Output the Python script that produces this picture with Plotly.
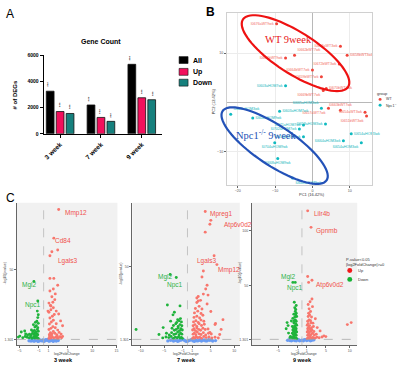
import numpy as np
import plotly.graph_objects as go

W, H = 400, 367
FONT = "Liberation Sans, Arial, sans-serif"

# ---------------- Panel A data ----------------
weeks = ["3 week", "7 week", "9 week"]
all_degs = [3250, 2200, 5300]
up_degs = [1700, 1250, 2750]
down_degs = [1550, 950, 2600]
a_ticks = [0, 2000, 4000, 6000]

# ---------------- Panel B data (PCA) ----------------
wt_pc1 = [-9.6, -4.8, -7.2, 7.5, 9.3, 7.2, 0.0, 2.4, 3.7, 2.9, 7.5, 4.3, 14.1, 14.5]
wt_pc2 = [16.0, 9.6, 9.0, 11.4, 9.6, 7.8, 6.6, 5.2, 2.8, 2.4, -1.6, -1.2, -2.0, -2.8]
wt_names = ["I0676aWT9wk", "I0662bWT7wk", "I0664bWT9wk", "I0663aWT3wk", "I0658bWT3wk",
            "I0672bWT3wk", "I0664bWT7wk", "I0659bWT7wk", "I0670bWT3wk", "I0669bWT7wk",
            "I0663bWT7wk", "I0657aWT7wk", "I0654aWT3wk", "I0651bWT3wk"]
wt_pos = ["middle left", "top right", "middle left", "middle left", "middle right",
          "middle left", "middle left", "middle left", "middle right", "bottom left",
          "top center", "bottom left", "middle left", "bottom left"]
hom_pc1 = [-7.2, -21.9, -16.0, -8.8, -2.4, -3.5, 2.4, 3.5, -2.4, -10.1, -9.3, -5.3, 8.3, 10.4, 13.1]
hom_pc2 = [3.4, -2.4, -3.2, -1.8, -4.6, -5.4, -1.2, -4.4, -7.0, -8.2, -11.4, -15.4, -7.8, -6.4, -8.2]
hom_names = ["I0603aHOM7wk", "I0604aHOM3wk", "I0602aHOM9wk", "I0603aHOM7wk", "I0671aHOM7wk",
             "I0702aHOM7wk", "I0665aHOM3wk", "I0658aHOM3wk", "I0653aHOM7wk", "I0704aHOM9wk",
             "I0668aHOM9wk", "I0668aHOM9wk", "I0664aHOM3wk", "I0654aHOM3wk", "I0654aHOM3wk"]
hom_pos = ["middle left", "top right", "middle right", "middle right", "middle left",
           "middle left", "top left", "middle left", "middle left", "bottom center",
           "bottom center", "bottom right", "middle left", "middle right", "bottom left"]

# ---------------- Panel C data (volcano) ----------------
# 3 week
up1_x = [1.1, 1.3, 1.5, 1.8, 2.1, 2.5, 2.9, 3.4, 3.7, 3.3, 3.0, 3.9, 1.2, 1.4, 1.7, 2.0, 2.3, 2.7, 3.2, 3.6,
         1.1, 1.5, 1.9, 2.4, 2.9, 3.9, 1.2, 1.6, 2.0, 2.6, 1.3, 1.8, 2.2, 1.1, 1.5, 2.0, 2.6, 1.4, 1.9, 2.3,
         1.7, 2.4, 1.3, 2.0, 3.1, 3.5, 1.2, 1.6, 2.8, 1.3, 2.1, 2.9, 1.3, 1.7, 2.9, 2.1, 3.1, 1.1, 1.5, 0.9]
up1_y = [2.0, 2.6, 2.2, 3.0, 2.4, 2.8, 2.1, 3.2, 2.5, 2.9, 2.3, 10.8, 4.8, 6.0, 5.2, 6.8, 5.6, 4.6, 6.2, 5.0,
         8.2, 9.0, 10.2, 9.4, 7.8, 3.4, 12.0, 13.4, 14.6, 12.2, 16.2, 17.4, 18.6, 20.2, 22.0, 23.4, 21.0, 25.0, 27.2, 29.0,
         31.0, 33.0, 35.0, 36.4, 19.0, 14.2, 3.6, 4.2, 3.8, 43.8, 43.8, 39.0, 59.5, 62.3, 63.6, 71.8, 91.7, 26.6, 24.6, 21.0]
down1_x = [-1.1, -1.3, -1.5, -1.7, -1.9, -2.1, -2.4, -2.7, -3.0, -3.4, -3.8, -4.3, -4.9, -5.2, -1.2, -1.4, -1.6, -1.8,
           -2.0, -2.3, -2.6, -2.9, -3.3, -3.7, -1.1, -1.3, -1.6, -1.9, -2.2, -2.5, -1.2, -1.5, -1.8, -2.1, -1.1, -1.4,
           -1.7, -1.2, -1.3, -1.1, -2.0, -1.2, -4.6, -3.9]
down1_y = [2.0, 2.5, 3.0, 2.2, 3.4, 2.6, 2.1, 3.0, 2.4, 2.8, 3.3, 2.5, 3.6, 2.9, 4.5, 5.2, 4.0, 5.8,
           4.8, 5.5, 4.2, 4.9, 4.4, 5.1, 7.0, 8.2, 6.5, 7.6, 6.8, 7.9, 9.5, 10.8, 9.9, 11.6, 12.5, 14.0,
           13.2, 16.5, 21.0, 18.5, 41.7, 28.0, 6.5, 7.2]
ns1_x = [-3.0, -2.6, -2.2, -1.8, -1.4, -1.0, -0.6, -0.2, 0.2, 0.6, 1.0, 1.4, 1.8, 2.2, 2.6, 3.0,
         -2.4, -1.6, -0.8, 0.0, 0.8, 1.6, 2.4, -2.0, -1.2, -0.4, 0.4, 1.2, 2.0, 2.8]
ns1_y = [0.4, 0.2, 0.6, 0.3, 0.8, 0.1, 0.5, 0.9, 0.2, 0.7, 0.4, 1.0, 0.3, 0.6, 0.2, 0.5,
         1.1, 1.2, 1.0, 0.0, 1.2, 0.9, 0.8, 0.1, 0.0, 0.3, 1.1, 0.1, 0.0, 0.9]
genes1 = ["Mmp12", "Cd84", "Lgals3", "Mgl2", "Npc1"]
genes1_x = [3.9, 1.9, 2.5, -4.9, -4.3]
genes1_y = [89.0, 70.5, 56.1, 39.0, 25.3]
genes1_up = [True, True, True, False, False]

# 7 week
up2_x = [1.1, 1.3, 1.6, 1.9, 2.2, 2.6, 3.0, 3.5, 4.0, 4.6, 5.2, 5.9, 6.6, 1.2, 1.5, 1.8, 2.1, 2.5, 2.9, 3.4,
         3.9, 4.5, 5.1, 1.1, 1.4, 1.7, 2.0, 2.4, 2.8, 3.3, 3.8, 4.4, 1.2, 1.6, 2.0, 2.5, 3.0, 3.6, 1.3, 1.8,
         2.3, 2.9, 3.5, 1.4, 2.0, 2.6, 3.3, 1.5, 2.2, 2.9, 1.7, 2.5, 3.1, 2.0, 2.8, 2.3, 3.4, 4.2, 5.0, 6.0,
         7.2, 4.8, 3.9, 3.1, 3.4, 6.3, 5.7, 3.8, 4.8, 5.0, 3.8, 2.0, 4.4, 2.3, 7.6, 5.9, 6.9, 4.2]
up2_y = [2.0, 2.6, 2.2, 3.0, 2.4, 2.8, 2.1, 3.2, 2.5, 2.9, 2.3, 2.7, 2.2, 4.8, 5.6, 4.4, 6.2, 5.0, 4.6, 5.8,
         4.2, 5.4, 4.9, 7.6, 8.4, 7.2, 9.0, 8.0, 7.4, 8.8, 7.9, 8.3, 10.4, 11.2, 10.0, 11.8, 10.6, 11.4, 13.0, 13.8,
         12.6, 14.2, 13.4, 16.0, 16.8, 15.6, 17.4, 19.0, 20.2, 18.6, 22.0, 23.4, 21.6, 26.0, 27.4, 30.0, 31.6, 25.0, 20.0, 12.0,
         8.0, 6.0, 35.0, 43.0, 47.0, 51.3, 57.2, 73.0, 78.3, 80.9, 86.8, 29.0, 30.9, 27.0, 14.5, 11.2, 4.6, 37.5]
down2_x = [-1.1, -1.3, -1.6, -1.9, -2.2, -2.6, -3.0, -3.5, -4.0, -4.6, -5.3, -1.2, -1.5, -1.8, -2.1, -2.5, -2.9, -3.4,
           -3.9, -4.5, -1.1, -1.4, -1.7, -2.0, -2.4, -2.8, -3.3, -1.2, -1.6, -2.0, -2.5, -3.0, -1.3, -1.8, -2.3, -1.5,
           -2.1, -3.1, -1.6, -4.3, -3.7, -2.4, -11.0, -6.1, -5.2, -2.8, -3.6]
down2_y = [2.0, 2.6, 2.2, 3.0, 2.4, 2.8, 2.1, 3.2, 2.5, 2.9, 2.3, 4.8, 5.6, 4.4, 6.2, 5.0, 4.6, 5.8,
           4.2, 5.4, 7.6, 8.4, 7.2, 9.0, 8.0, 7.4, 8.8, 10.4, 11.2, 10.0, 11.8, 10.6, 13.0, 13.8, 12.6, 15.2,
           14.4, 17.7, 23.7, 24.3, 44.7, 42.7, 7.9, 4.6, 9.2, 19.5, 13.5]
ns2_x = [-4.2, -3.6, -3.0, -2.4, -1.8, -1.2, -0.6, 0.0, 0.6, 1.2, 1.8, 2.4, 3.0, 3.6, 4.2, 4.8, 5.4, 6.0,
         -3.3, -2.1, -0.9, 0.3, 1.5, 2.7, 3.9, 5.1, -2.7, -1.5, -0.3, 0.9, 2.1, 3.3, 4.5]
ns2_y = [0.3, 0.7, 0.2, 0.9, 0.4, 1.1, 0.6, 0.1, 0.8, 0.3, 1.0, 0.5, 0.2, 0.9, 0.4, 0.7, 0.2, 0.5,
         1.2, 0.1, 1.2, 0.6, 0.0, 1.1, 0.3, 1.0, 0.5, 0.8, 0.0, 1.2, 0.3, 0.7, 1.1]
genes2 = ["Mpreg1", "Atp6v0d2", "Lgals3", "Mmp12", "Mgl2", "Npc1"]
genes2_x = [4.4, 7.4, 1.6, 6.1, -6.7, -4.8]
genes2_y = [84.9, 77.6, 54.0, 47.4, 42.7, 37.5]
genes2_up = [True, True, True, True, False, False]

# 9 week
up3_x = [1.1, 1.3, 1.5, 1.7, 2.0, 2.3, 2.7, 3.1, 3.6, 4.2, 1.2, 1.4, 1.6, 1.9, 2.2, 2.6, 3.0, 1.1, 1.3, 1.5,
         1.8, 2.1, 2.5, 1.2, 1.4, 1.7, 2.0, 2.4, 1.1, 1.3, 1.6, 1.9, 1.2, 1.5, 1.8, 2.3, 1.3, 1.6, 2.0, 1.4,
         1.8, 1.5, 2.2, 2.8, 3.2, 9.5, 10.3, 4.6, 5.0, 3.8, 1.2, 2.1, 1.4, 1.9, 1.2, 1.3, 1.7, 2.1]
up3_y = [2.0, 2.8, 2.2, 3.4, 2.6, 3.0, 2.4, 3.2, 2.7, 3.5, 5.0, 6.2, 4.6, 5.6, 6.8, 5.2, 6.0, 8.0, 9.2, 7.6,
         8.6, 9.8, 8.4, 11.0, 12.4, 10.6, 11.8, 13.0, 14.2, 15.6, 13.8, 16.4, 17.8, 19.0, 18.2, 16.0, 22.0, 23.4, 21.6, 25.0,
         26.6, 29.0, 31.0, 20.0, 12.0, 14.7, 16.5, 4.5, 3.8, 9.0, 58.4, 55.0, 53.0, 103.0, 118.0, 33.0, 35.5, 38.0]
down3_x = [-1.1, -1.3, -1.5, -1.7, -1.9, -2.1, -1.2, -1.4, -1.6, -1.8, -2.0, -1.1, -1.3, -1.5, -1.7, -1.9, -1.2, -1.4,
           -1.6, -1.8, -2.0, -1.1, -1.3, -1.5, -1.7, -1.2, -1.4, -1.6, -1.9, -1.1, -1.3, -1.5, -1.2, -1.4, -1.7, -1.3,
           -1.5, -1.2, -2.4, -2.8, -3.1, -2.9, -3.3, -2.2, -1.6, -1.9, -1.4, -2.5]
down3_y = [2.0, 2.8, 2.2, 3.4, 2.6, 3.0, 5.0, 6.2, 4.6, 5.6, 6.8, 8.0, 9.2, 7.6, 8.6, 9.8, 11.0, 12.4,
           10.6, 11.8, 13.0, 14.2, 15.6, 13.8, 16.4, 17.8, 19.0, 18.2, 20.4, 22.0, 23.4, 21.6, 25.0, 26.6, 24.2, 28.4,
           30.0, 32.0, 4.0, 7.0, 16.5, 13.8, 11.0, 18.0, 35.0, 53.0, 53.0, 3.0]
ns3_x = [-3.0, -2.5, -2.0, -1.5, -1.0, -0.5, 0.0, 0.5, 1.0, 1.5, 2.0, 2.5, -2.7, -1.7, -0.7, 0.3, 1.3, 2.3,
         -2.2, -1.2, -0.2, 0.8, 1.8]
ns3_y = [0.4, 0.2, 0.6, 0.3, 0.8, 0.1, 0.5, 0.9, 0.2, 0.7, 0.4, 1.0, 1.1, 1.2, 1.0, 0.0, 1.2, 0.9,
         0.1, 0.0, 0.3, 1.1, 0.1]
genes3 = ["Lilr4b", "Gpnmb", "Atp6v0d2", "Mgl2", "Npc1"]
genes3_x = [2.0, 2.6, 2.6, -4.7, -3.6]
genes3_y = [115.6, 99.5, 50.4, 57.5, 47.7]
genes3_up = [True, True, True, False, False]

# ---------------- helpers ----------------
def dx(l, r):
    return [l / W, r / W]

def dy(top, bottom):
    return [1 - bottom / H, 1 - top / H]

def px(x):
    return x / W

def py(y):
    return 1 - y / H

def ann(x, y, text, size, color="#000", xanchor="center", angle=0, family=FONT, xref="paper", yref="paper"):
    return dict(x=x, y=y, xref=xref, yref=yref, text=text, showarrow=False, xanchor=xanchor,
                yanchor="middle", textangle=angle, font=dict(size=size, color=color, family=family))

RED_PT = "#f8766d"
GREEN_PT = "#1fb33b"
BLUE_PT = "#6a9cf2"
RED_TXT = "#f0524c"
GREEN_TXT = "#2db24a"

fig = go.Figure()
annotations = []
shapes = []

# ---------------- Panel A ----------------
bar_cols = {"All": "#000000", "Up": "#f2105c", "Down": "#16807d"}
for name, vals in [("All", all_degs), ("Up", up_degs), ("Down", down_degs)]:
    fig.add_trace(go.Bar(x=weeks, y=vals, name=name, marker=dict(color=bar_cols[name],
                         line=dict(color="#111111", width=0.8)), showlegend=False,
                         xaxis="x", yaxis="y"))
for i, wk in enumerate(weeks):
    for off, vals in [(-11, all_degs), (0, up_degs), (11, down_degs)]:
        annotations.append(dict(x=wk, y=vals[i], xref="x", yref="y", text="***", showarrow=False,
                                textangle=-90, xshift=off, xanchor="center", yanchor="bottom", yshift=2,
                                font=dict(size=4, color="#000", family=FONT)))
annotations.append(ann(px(100), py(39), "<b>Gene Count</b>", 7))
annotations.append(ann(px(15), py(93), "<b># of DEGs</b>", 6, angle=-90))
for k, (name, yy) in enumerate([("All", 58), ("Up", 70), ("Down", 81)]):
    shapes.append(dict(type="rect", xref="paper", yref="paper", x0=px(179), x1=px(188),
                       y0=py(yy - 3.5), y1=py(yy + 3.5), fillcolor=bar_cols[name],
                       line=dict(color="#111", width=0.6)))
    annotations.append(ann(px(191), py(yy), "<b>%s</b>" % name, 7, xanchor="left"))

# ---------------- Panel B ----------------
fig.add_trace(go.Scatter(x=wt_pc1, y=wt_pc2, mode="markers+text", text=wt_names, textposition=wt_pos,
                         marker=dict(color="#f0443a", size=3), textfont=dict(size=3.6, color="#f26b62", family=FONT),
                         showlegend=False, cliponaxis=False, xaxis="x2", yaxis="y2"))
fig.add_trace(go.Scatter(x=hom_pc1, y=hom_pc2, mode="markers+text", text=hom_names, textposition=hom_pos,
                         marker=dict(color="#0fbac0", size=3), textfont=dict(size=3.6, color="#17b6bc", family=FONT),
                         showlegend=False, cliponaxis=False, xaxis="x2", yaxis="y2"))

def ellipse_path(cx, cy, a, b, ang):
    t = np.linspace(0, 2 * np.pi, 80)
    th = np.deg2rad(ang)
    xs = cx + a * np.cos(t) * np.cos(th) - b * np.sin(t) * np.sin(th)
    ys = cy + a * np.cos(t) * np.sin(th) + b * np.sin(t) * np.cos(th)
    pts = ["%.5f,%.5f" % (px(x), py(y)) for x, y in zip(xs, ys)]
    return "M" + " L".join(pts) + " Z"

shapes.append(dict(type="path", xref="paper", yref="paper", path=ellipse_path(296, 51, 63, 21, 33),
                   line=dict(color="#ee1212", width=2.2)))
shapes.append(dict(type="path", xref="paper", yref="paper", path=ellipse_path(275, 145, 63, 20, 34),
                   line=dict(color="#2352b8", width=2.2)))
SERIF = "Liberation Serif, Times New Roman, serif"
annotations.append(ann(px(289), py(37), "WT 9week", 10.5, color="#e81818", family=SERIF))
annotations.append(ann(px(266), py(134), "Npc1<sup>-/-</sup> 9week", 10.5, color="#2350b5", family=SERIF))
annotations.append(ann(px(313), py(194.5), "PC1 (16.42%)", 4, color="#333"))
annotations.append(ann(px(213), py(100), "PC2 (12.42%)", 4, color="#333", angle=-90))
annotations.append(ann(px(376), py(92), "group", 4, color="#333", xanchor="left"))
for col, lab, yy in [("#f0443a", "WT", 98), ("#0fbac0", "Npc1<sup>-/-</sup>", 104)]:
    shapes.append(dict(type="circle", xref="paper", yref="paper", x0=px(379.5), x1=px(382.5),
                       y0=py(yy - 1.5), y1=py(yy + 1.5), fillcolor=col, line=dict(width=0)))
    annotations.append(ann(px(385), py(yy), lab, 3.6, color="#333", xanchor="left"))

# ---------------- Panel C ----------------
volc = [
    (up1_x, up1_y, down1_x, down1_y, ns1_x, ns1_y, genes1, genes1_x, genes1_y, genes1_up, "3"),
    (up2_x, up2_y, down2_x, down2_y, ns2_x, ns2_y, genes2, genes2_x, genes2_y, genes2_up, "4"),
    (up3_x, up3_y, down3_x, down3_y, ns3_x, ns3_y, genes3, genes3_x, genes3_y, genes3_up, "5"),
]
for (ux, uy, dxx, dyy, nx, ny, gn, gx, gy, gup, ax) in volc:
    xa, ya = "x" + ax, "y" + ax
    fig.add_trace(go.Scatter(x=nx, y=ny, mode="markers", marker=dict(color=BLUE_PT, size=3.4),
                             showlegend=False, xaxis=xa, yaxis=ya))
    fig.add_trace(go.Scatter(x=dxx, y=dyy, mode="markers", marker=dict(color=GREEN_PT, size=2.9),
                             showlegend=False, xaxis=xa, yaxis=ya))
    fig.add_trace(go.Scatter(x=ux, y=uy, mode="markers", marker=dict(color=RED_PT, size=2.9),
                             showlegend=False, xaxis=xa, yaxis=ya))
    for g, gxx, gyy, isup in zip(gn, gx, gy, gup):
        annotations.append(ann(gxx, gyy, g, 6.5, color=RED_TXT if isup else GREEN_TXT, xanchor="left",
                               xref=xa, yref=ya))

vgeo = {"3": (16, 117, 63, "3 week"), "4": (132, 240, 186, "7 week"), "5": (252, 358, 303, "9 week")}
for ax, (l, r, c, wk) in vgeo.items():
    annotations.append(ann(px((l + r) / 2), py(356.5), "log2FoldChange", 3.5, color="#444"))
    annotations.append(ann(px(c), py(363), "<b>%s</b>" % wk, 5.5))
    annotations.append(ann(px(l - 12), py(275), "-log10(pvalue)", 3.5, color="#444", angle=-90))
    shapes.append(dict(type="line", xref="x%s domain" % ax, yref="y" + ax, x0=0, x1=1, y0=1.301, y1=1.301,
                       line=dict(color="#a0a0a0", width=0.7, dash="dash")))
    shapes.append(dict(type="line", xref="x" + ax, yref="y%s domain" % ax, x0=0, x1=0, y0=0, y1=1,
                       line=dict(color="#b0b0b0", width=0.7, dash="dash")))

# C legend
annotations.append(ann(px(345), py(261), "P-value&lt;0.05", 4, color="#333", xanchor="left"))
annotations.append(ann(px(345), py(266), "|log2FoldChange|&gt;=0", 4, color="#333", xanchor="left"))
for col, lab, yy in [("#f21a1a", "Up", 272), ("#15b233", "Down", 281)]:
    shapes.append(dict(type="circle", xref="paper", yref="paper", x0=px(348), x1=px(353),
                       y0=py(yy - 2.5), y1=py(yy + 2.5), fillcolor=col, line=dict(width=0)))
    annotations.append(ann(px(357), py(yy), lab, 4, color="#333", xanchor="left"))

# panel letters
annotations.append(ann(px(3), py(11), "A", 12, xanchor="left"))
annotations.append(ann(px(204), py(9), "<b>B</b>", 12, xanchor="left"))
annotations.append(ann(px(3), py(198), "C", 12, xanchor="left"))

tickf_small = dict(size=3.5, color="#555", family=FONT)
vax_common = dict(showgrid=False, zeroline=False, showline=True, linecolor="#666", linewidth=0.8,
                  ticks="outside", ticklen=2, tickcolor="#666", tickfont=tickf_small)

layout = dict(
    width=W, height=H, margin=dict(l=0, r=0, t=0, b=0), paper_bgcolor="white", plot_bgcolor="white",
    font=dict(family=FONT), bargap=0.27, bargroupgap=0.22, barmode="group",
    xaxis=dict(domain=dx(43, 162), anchor="y", range=[-0.4, 2.5], showline=True, linecolor="#000",
               linewidth=1.3, ticks="outside", ticklen=3, tickcolor="#000", tickangle=-45,
               tickvals=weeks, ticktext=["<b>%s</b>" % w for w in weeks],
               tickfont=dict(size=6.5, color="#000", family=FONT), showgrid=False),
    yaxis=dict(domain=dy(53, 133), anchor="x", range=[0, 6000], tickvals=a_ticks,
               ticktext=["<b>%d</b>" % v for v in a_ticks], showline=True,
               linecolor="#000", linewidth=1.3, ticks="outside", ticklen=3, tickcolor="#000",
               tickfont=dict(size=5, color="#000", family=FONT), showgrid=False, zeroline=False),
    xaxis2=dict(domain=dx(227, 373), anchor="y2", range=[-22.93, 16.0], tickvals=[-20, -10, 0, 10],
                showgrid=True, gridcolor="#ececec", gridwidth=0.7, zeroline=True, zerolinecolor="#b8b8b8",
                zerolinewidth=0.7, showline=True, linecolor="#d0d0d0", mirror=True, ticks="outside",
                ticklen=2, tickcolor="#666", tickfont=dict(size=3.6, color="#555", family=FONT)),
    yaxis2=dict(domain=dy(10, 185), anchor="x2", range=[-16.8, 18.2], tickvals=[-10, 10],
                showgrid=True, gridcolor="#ececec", gridwidth=0.7, zeroline=True, zerolinecolor="#b8b8b8",
                zerolinewidth=0.7, showline=True, linecolor="#d0d0d0", mirror=True, ticks="outside",
                ticklen=2, tickcolor="#666", tickfont=dict(size=3.6, color="#555", family=FONT)),
    xaxis3=dict(domain=dx(16, 117), anchor="y3", range=[-5.5, 15.2], tickvals=[-5, -1, 1, 5, 10, 15], **vax_common),
    yaxis3=dict(domain=dy(203, 348), anchor="x3", range=[-2.8, 96.5], tickvals=[1.301, 50],
                ticktext=["1.301", "50"], **vax_common),
    xaxis4=dict(domain=dx(132, 240), anchor="y4", range=[-11.8, 11.2], tickvals=[-10, -5, -1, 1, 5, 10], **vax_common),
    yaxis4=dict(domain=dy(203, 348), anchor="x4", range=[-2.65, 92.7], tickvals=[1.301, 50],
                ticktext=["1.301", "50"], **vax_common),
    xaxis5=dict(domain=dx(252, 358), anchor="y5", range=[-10.5, 11.56], tickvals=[-5, -1, 1, 5, 10], **vax_common),
    yaxis5=dict(domain=dy(203, 348), anchor="x5", range=[-4.1, 125.4], tickvals=[1.301, 50, 100],
                ticktext=["1.301", "50", "100"], **vax_common),
    annotations=annotations,
    shapes=shapes,
)
fig.update_layout(**layout)
for ax in ["3", "4", "5"]:
    fig.add_shape(type="rect", xref="x%s domain" % ax, yref="y%s domain" % ax, x0=0, x1=1, y0=0, y1=1,
                  fillcolor="#f1f1f1", line=dict(width=0), layer="below")

fig.write_html("out.html")
